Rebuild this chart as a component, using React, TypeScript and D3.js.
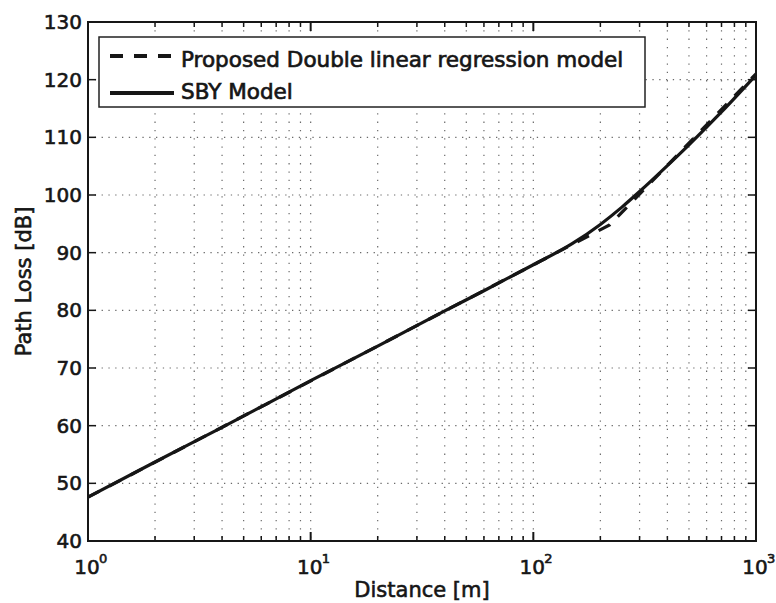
import React from "react";
import * as d3 from "d3";

// Distance in metres and path loss in dB
const sbyDistance = [1, 2, 4, 10, 20, 40, 60, 100, 150, 200, 250, 300, 400, 500, 700, 1000];
const sbyLoss = [47.6, 53.7, 59.7, 67.8, 73.8, 79.9, 83.4, 87.9, 91.6, 94.9, 97.9, 100.6, 105.1, 108.7, 114.4, 120.8];

const regDistance = [1, 220, 1000];
const regLoss = [47.6, 94.8, 121.0];

const yTicks = [40, 50, 60, 70, 80, 90, 100, 110, 120, 130];
const xMajor = [1, 10, 100, 1000];
const xExponents = ["0", "1", "2", "3"];

const legendLabels = ["Proposed Double linear regression model", "SBY Model"];
const xLabel = "Distance [m]";
const yLabel = "Path Loss [dB]";

const W = 776;
const H = 603;
const plot = { left: 88, right: 756, top: 22, bottom: 541 };
const FONT = "'DejaVu Sans', Verdana, sans-serif";
const INK = "#161616";

export default function App() {
  const x = d3.scaleLog().domain([1, 1000]).range([plot.left, plot.right]);
  const y = d3.scaleLinear().domain([40, 130]).range([plot.bottom, plot.top]);

  // minor positions within each decade
  const xMinor: number[] = [];
  for (let dec = 1; dec < 1000; dec *= 10) {
    for (let k = 2; k <= 9; k++) xMinor.push(dec * k);
  }
  const xGrid = [...xMinor, 10, 100];
  const yGrid = yTicks.filter((v) => v > 40 && v < 130);

  const sbyPts: [number, number][] = sbyDistance.map((d, i) => [d, sbyLoss[i]]);
  const regPts: [number, number][] = regDistance.map((d, i) => [d, regLoss[i]]);

  const smooth = d3
    .line<[number, number]>()
    .x((p) => x(p[0]))
    .y((p) => y(p[1]))
    .curve(d3.curveMonotoneX);
  const straight = d3
    .line<[number, number]>()
    .x((p) => x(p[0]))
    .y((p) => y(p[1]));

  const dash = "13,11";

  return (
    <svg
      width={W}
      height={H}
      style={{ position: "absolute", left: 0, top: 0, background: "#fff" }}
      fontFamily={FONT}
    >
      <rect x={0} y={0} width={W} height={H} fill="#fff" />

      {/* grid */}
      <g stroke="#6a6a6a" strokeWidth={1.2}>
        {xGrid.map((v) => (
          <line
            key={"gx" + v}
            x1={x(v)}
            x2={x(v)}
            y1={plot.top}
            y2={plot.bottom}
            strokeDasharray="1.3,7"
          />
        ))}
        {yGrid.map((v) => (
          <line
            key={"gy" + v}
            x1={plot.left}
            x2={plot.right}
            y1={y(v)}
            y2={y(v)}
            strokeDasharray="1.3,5.5"
          />
        ))}
      </g>

      {/* ticks */}
      <g stroke={INK} strokeWidth={1.5}>
        {xMinor.map((v) => (
          <g key={"tm" + v}>
            <line x1={x(v)} x2={x(v)} y1={plot.bottom} y2={plot.bottom - 5} />
            <line x1={x(v)} x2={x(v)} y1={plot.top} y2={plot.top + 5} />
          </g>
        ))}
        {xMajor.map((v) => (
          <g key={"tM" + v}>
            <line x1={x(v)} x2={x(v)} y1={plot.bottom} y2={plot.bottom - 9} strokeWidth={2} />
            <line x1={x(v)} x2={x(v)} y1={plot.top} y2={plot.top + 9} strokeWidth={2} />
          </g>
        ))}
        {yTicks.map((v) => (
          <g key={"ty" + v}>
            <line x1={plot.left} x2={plot.left + 8} y1={y(v)} y2={y(v)} />
            <line x1={plot.right} x2={plot.right - 8} y1={y(v)} y2={y(v)} />
          </g>
        ))}
      </g>

      {/* curves */}
      <path d={smooth(sbyPts) || ""} fill="none" stroke={INK} strokeWidth={3.2} strokeLinejoin="round" />
      <path
        d={straight(regPts) || ""}
        fill="none"
        stroke={INK}
        strokeWidth={3.2}
        strokeDasharray={dash}
      />

      {/* frame */}
      <rect
        x={plot.left}
        y={plot.top}
        width={plot.right - plot.left}
        height={plot.bottom - plot.top}
        fill="none"
        stroke={INK}
        strokeWidth={2}
      />

      {/* legend */}
      <g>
        <rect x={99} y={37} width={546} height={70} fill="#fff" stroke="#222" strokeWidth={1.5} />
        <line x1={110} x2={174} y1={56} y2={56} stroke={INK} strokeWidth={4} strokeDasharray={dash} />
        <line x1={110} x2={174} y1={93} y2={93} stroke={INK} strokeWidth={4} />
        <text x={181} y={67} fontSize={21.5} fill={INK} stroke={INK} strokeWidth={0.7}>
          {legendLabels[0]}
        </text>
        <text x={181} y={99} fontSize={21.5} fill={INK} stroke={INK} strokeWidth={0.7}>
          {legendLabels[1]}
        </text>
      </g>

      {/* y tick labels */}
      <g fontSize={20} fill={INK} stroke={INK} strokeWidth={0.6} textAnchor="end">
        {yTicks.map((v) => (
          <text key={"yl" + v} x={plot.left - 6} y={y(v) + 7}>
            {v}
          </text>
        ))}
      </g>

      {/* x tick labels */}
      <g fill={INK} stroke={INK} strokeWidth={0.6}>
        {xMajor.map((v, i) => (
          <g key={"xl" + v}>
            <text x={x(v) - 1} y={574} fontSize={20} textAnchor="middle">
              10
            </text>
            <text x={x(v) + 11} y={563} fontSize={13}>
              {xExponents[i]}
            </text>
          </g>
        ))}
      </g>

      {/* axis titles */}
      <text
        x={(plot.left + plot.right) / 2}
        y={597}
        fontSize={21}
        textAnchor="middle"
        fill={INK}
        stroke={INK}
        strokeWidth={0.6}
      >
        {xLabel}
      </text>
      <text
        transform={`translate(31, ${(plot.top + plot.bottom) / 2}) rotate(-90)`}
        fontSize={21}
        textAnchor="middle"
        fill={INK}
        stroke={INK}
        strokeWidth={0.6}
      >
        {yLabel}
      </text>
    </svg>
  );
}
